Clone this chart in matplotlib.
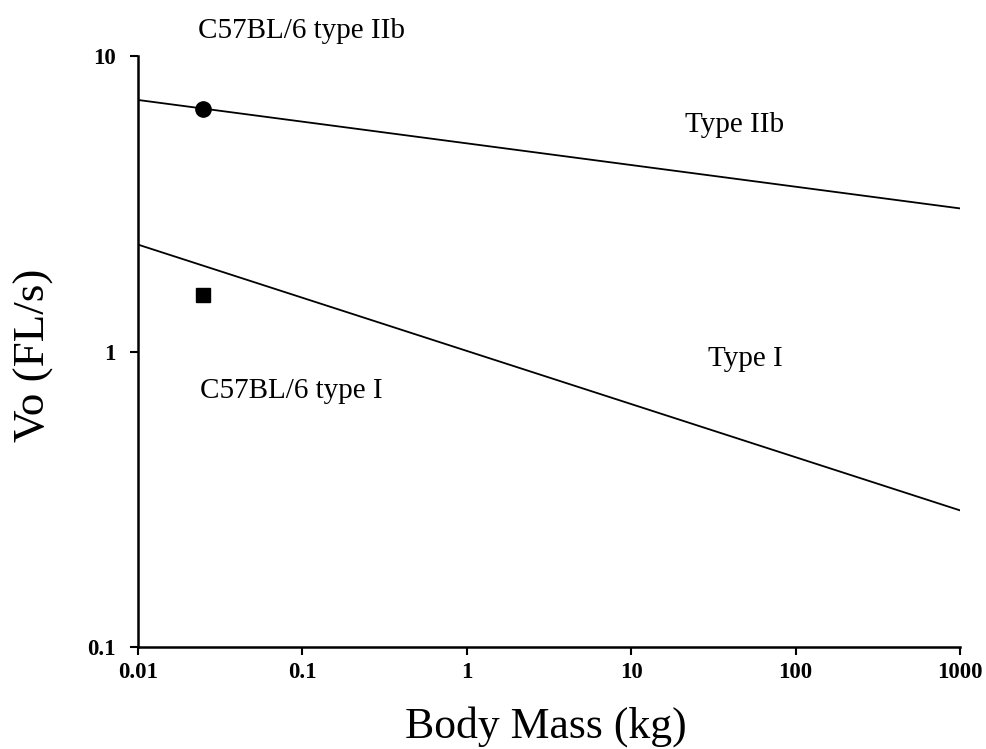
import matplotlib
matplotlib.use("Agg")
import matplotlib.pyplot as plt
import numpy as np

plt.rcParams['font.family'] = ['Liberation Serif', 'DejaVu Serif']

# Data
mass_range = [0.01, 1000]
type_iib_line = [7.1, 3.05]
type_i_line = [2.3, 0.29]
c57_mass = [0.025]
c57_iib = [6.6]
c57_i = [1.55]
xticks = [0.01, 0.1, 1, 10, 100, 1000]
xticklabels = ['0.01', '0.1', '1', '10', '100', '1000']
yticks = [0.1, 1, 10]
yticklabels = ['0.1', '1', '10']

fig = plt.figure(figsize=(9.86, 7.49), dpi=100)
ax = fig.add_axes([0.140, 0.1362, 0.8336, 0.789])

ax.plot(mass_range, type_iib_line, color='black', lw=1.3)
ax.plot(mass_range, type_i_line, color='black', lw=1.3)
ax.plot(c57_mass, c57_iib, 'o', color='black', ms=11)
ax.plot(c57_mass, c57_i, 's', color='black', ms=9.5)

ax.set_xscale('log')
ax.set_yscale('log')
ax.set_xlim(0.01, 1000)
ax.set_ylim(0.1, 10)
ax.set_xticks(xticks)
ax.set_xticklabels(xticklabels)
ax.set_yticks(yticks)
ax.set_yticklabels(yticklabels)
ax.minorticks_off()
ax.tick_params(direction='out', length=6, width=1.5, labelsize=16.5)
ax.tick_params(axis='x', pad=5)
ax.tick_params(axis='y', pad=10)
for lab in ax.get_xticklabels() + ax.get_yticklabels():
    lab.set_fontweight('bold')
for s in ['top', 'right']:
    ax.spines[s].set_visible(False)
for s in ['left', 'bottom']:
    ax.spines[s].set_linewidth(1.8)

fig.text(546/986, 1 - 727/749, 'Body Mass (kg)', fontsize=31.5, ha='center', va='center')
fig.text(34/986, 1 - 355/749, 'Vo (FL/s)', fontsize=32.5, ha='center', va='center', rotation=90)

fs = 21
ax.text(0.0232, 11.5, 'C57BL/6 type IIb', fontsize=fs, va='baseline', ha='left', clip_on=False)
ax.text(21.2, 5.53, 'Type IIb', fontsize=fs, va='baseline', ha='left')
ax.text(29.3, 0.894, 'Type I', fontsize=fs, va='baseline', ha='left')
ax.text(0.0238, 0.697, 'C57BL/6 type I', fontsize=fs, va='baseline', ha='left')

fig.savefig('out.png', dpi=100)
